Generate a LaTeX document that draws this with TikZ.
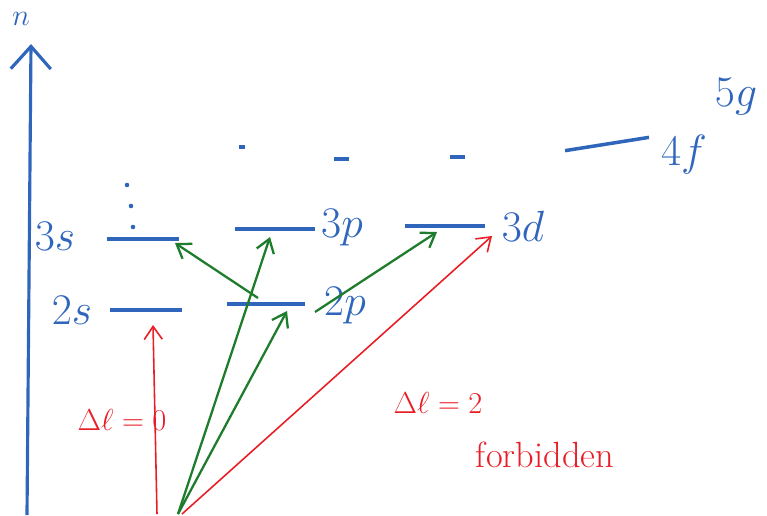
\documentclass[tikz,border=0pt]{standalone}
\usepackage{amsmath,amssymb}
\usepackage{tikz}
\usetikzlibrary{arrows.meta,positioning,calc}
\definecolor{penblue}{RGB}{47,101,187}
\definecolor{pengreen}{RGB}{30,125,45}
\definecolor{penred}{RGB}{232,30,38}
\tikzset{
  lvl/.style={fill=penblue, inner sep=0pt, minimum width=1.45cm, minimum height=2pt},
  stub/.style={fill=penblue, inner sep=0pt, minimum width=0.3cm, minimum height=2pt},
  olab/.style={font=\Huge, text=penblue},
  gtr/.style={-{Straight Barb[length=2.6mm,width=3.6mm]}, pengreen, line width=1.3pt},
  rtr/.style={-{Straight Barb[length=2.6mm,width=3.6mm]}, penred, line width=0.9pt},
  rlab/.style={font=\LARGE, text=penred},
  nax/.style={-{Straight Barb[length=4.5mm,width=8mm]}, penblue, line width=1.8pt},
}
\begin{document}
\begin{tikzpicture}[x=0.02cm,y=-0.02cm]
  \useasboundingbox (0,0) rectangle (767,515);
  % n axis
  \coordinate (ax0) at (27,515);
  \coordinate (ax1) at (31,44);
  \draw[nax] (ax0) -- (ax1);
  \node[font=\LARGE, text=penblue] (nlab) at (21,19) {$n$};
  % levels
  \node[lvl] (s2) at (146,310) {};
  \node[lvl] (s3) at (143,239) {};
  \node[lvl, minimum width=1.55cm] (p2) at (266,304) {};
  \node[lvl, minimum width=1.6cm] (p3) at (275,229) {};
  \node[lvl, minimum width=1.6cm] (d3) at (445,226) {};
  \node[lvl, minimum width=1.7cm, rotate=9] (f4) at (607,144) {};
  \node[stub, minimum width=0.12cm] (st1) at (242,147) {};
  \node[stub] (st2) at (341,159) {};
  \node[stub] (st3) at (457,157) {};
  \foreach \x/\y in {127/185, 131/206, 133/227}
    \fill[penblue] (\x,\y) circle (1.3pt);
  % labels
  \node[olab] (s2l) at (72,310) {$2s$};
  \node[olab] (s3l) at (55,236) {$3s$};
  \node[olab] (p2l) at (345,306) {$2p$};
  \node[olab] (p3l) at (342,228) {$3p$};
  \node[olab] (d3l) at (523,226) {$3d$};
  \node[olab] (f4l) at (684,155) {$4f$};
  \node[olab] (g5l) at (736,97) {$5g$};
  % transitions
  \coordinate (gs1) at (157,514);
  \coordinate (gs2) at (178,514);
  \draw[rtr] (gs1) -- ([shift={(7,15)}]s2.center);
  \node[rlab] (dl0) at (122,420) {$\Delta\ell = 0$};
  \draw[gtr] (gs2) -- ([shift={(-5,8)}]p3.center);
  \draw[gtr] (gs2) -- ([shift={(21,7)}]p2.center);
  \draw[gtr] ([shift={(49,8)}]p2.center) -- ([shift={(-8,6)}]d3.center);
  \draw[gtr] ([shift={(-8,-6)}]p2.center) -- ([shift={(32,4)}]s3.center);
  \draw[rtr] ([xshift=0.08cm]gs2) -- ([shift={(47,10)}]d3.center);
  \node[rlab] (dl2) at (438,403) {$\Delta\ell = 2$};
  \node[rlab, font=\huge] (forb) at (545,455) {forbidden};
\end{tikzpicture}
\end{document}
